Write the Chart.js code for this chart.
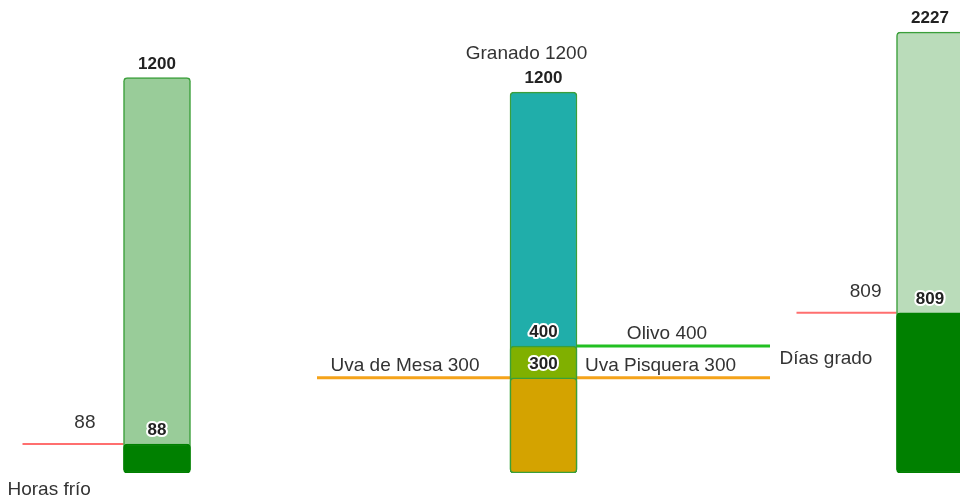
<!DOCTYPE html>
<html>
<head>
<meta charset="utf-8">
<script src="https://cdn.jsdelivr.net/npm/chart.js@4"></script>
<style>
  html, body { margin: 0; background: #fff; }
  canvas { display: block; }
</style>
</head>
<body>
<canvas id="chart" width="960" height="501"></canvas>
<script>
'use strict';

// horas frío: acumuladas / requeridas
const horasFrioLabel = 'Horas frío';
const horasFrio = [88, 1200];

// requerimiento de horas frío por cultivo
const cultivos = ['Granado', 'Olivo', 'Uva de Mesa', 'Uva Pisquera'];
const cultivoHoras = [1200, 400, 300, 300];

// días grado: acumulados / requeridos
const diasGradoLabel = 'Días grado';
const diasGrado = [809, 2227];

const FONT = "'Liberation Sans', Arial, sans-serif";
const BAR_W = 67;
const EDGE = '#3a9f3a';

let chart = null;

function bar(label, x, y, axis, color, border){
  return {
    label: label,
    data: [{x: x, y: y}],
    yAxisID: axis,
    backgroundColor: color,
    borderColor: border || EDGE,
    borderWidth: 1.5,
    borderRadius: 4,
    borderSkipped: false
  };
}

// value printed just over the top of every bar
const valueLabels = {
  id: 'valueLabels',
  afterDatasetsDraw(c){
    const ctx = c.ctx;
    ctx.save();
    ctx.font = 'bold 17px ' + FONT;
    ctx.textAlign = 'center';
    ctx.textBaseline = 'middle';
    ctx.lineJoin = 'round';
    c.data.datasets.forEach((ds, i) => {
      const el = c.getDatasetMeta(i).data[0];
      const txt = String(ds.data[0].y);
      ctx.lineWidth = 4;
      ctx.strokeStyle = '#fff';
      ctx.strokeText(txt, el.x, el.y - 13.5);
      ctx.fillStyle = '#222';
      ctx.fillText(txt, el.x, el.y - 13.5);
    });
    ctx.restore();
  }
};

// reference lines and captions
const notes = {
  id: 'notes',
  beforeDatasetsDraw(c){
    const ctx = c.ctx;
    const s = c.scales;
    const half = BAR_W / 2;
    const L = c.getDatasetMeta(0).data[0];
    const M = c.getDatasetMeta(4).data[0];
    const R = c.getDatasetMeta(5).data[0];
    const line = (x1, x2, y, color, w) => {
      ctx.beginPath();
      ctx.moveTo(x1, y);
      ctx.lineTo(x2, y);
      ctx.strokeStyle = color;
      ctx.lineWidth = w;
      ctx.stroke();
    };
    ctx.save();
    const yL = s.yL.getPixelForValue(horasFrio[0]);
    const yR = s.yR.getPixelForValue(diasGrado[0]);
    const y400 = s.yM.getPixelForValue(cultivoHoras[1]);
    const y300 = s.yM.getPixelForValue(cultivoHoras[2]);
    line(L.x - half - 101, L.x - half, yL, '#ff6f6f', 2);
    line(R.x - half - 100, R.x - half, yR, '#ff6f6f', 2);
    line(M.x + half, M.x + half + 193, y400, '#22c022', 3);
    line(M.x - half - 193, M.x - half, y300, '#f5a31a', 3);
    line(M.x + half, M.x + half + 193, y300, '#f5a31a', 3);
    ctx.restore();
  },
  afterDatasetsDraw(c){
    const ctx = c.ctx;
    const s = c.scales;
    const half = BAR_W / 2;
    const L = c.getDatasetMeta(0).data[0];
    const M = c.getDatasetMeta(4).data[0];
    const R = c.getDatasetMeta(5).data[0];
    const text = (t, x, y, align) => {
      ctx.textAlign = align;
      ctx.fillText(t, x, y);
    };
    ctx.save();
    ctx.font = '19px ' + FONT;
    ctx.fillStyle = '#333';
    ctx.textBaseline = 'middle';
    const yL = s.yL.getPixelForValue(horasFrio[0]);
    const yR = s.yR.getPixelForValue(diasGrado[0]);
    const y1200 = s.yM.getPixelForValue(cultivoHoras[0]);
    const y400 = s.yM.getPixelForValue(cultivoHoras[1]);
    const y300 = s.yM.getPixelForValue(cultivoHoras[2]);

    text(String(horasFrio[0]), L.x - half - 28, yL - 21, 'right');
    text(horasFrioLabel, L.x - half - 116, c.chartArea.bottom + 17, 'left');

    text(cultivos[0] + ' ' + cultivoHoras[0], M.x - 17, y1200 - 38, 'center');
    text(cultivos[1] + ' ' + cultivoHoras[1], M.x + half + 90, y400 - 12, 'center');
    text(cultivos[2] + ' ' + cultivoHoras[2], M.x - half - 105, y300 - 12, 'center');
    text(cultivos[3] + ' ' + cultivoHoras[3], M.x + half + 8, y300 - 12, 'left');

    text(String(diasGrado[0]), R.x - half - 15, yR - 21, 'right');
    text(diasGradoLabel, R.x - half - 117, yR + 46, 'left');
    ctx.restore();
  }
};

function makePlot(){
  chart = new Chart(document.querySelector('#chart'), {
    type: 'bar',
    data: {
      datasets: [
        bar(horasFrioLabel, 0, horasFrio[0], 'yL', '#008000', '#008000'),
        bar('Requerido', 0, horasFrio[1], 'yL', '#99cc99'),
        bar(cultivos[2], 1, cultivoHoras[2], 'yM', '#d4a300'),
        bar(cultivos[1], 1, cultivoHoras[1], 'yM', '#80b000'),
        bar(cultivos[0], 1, cultivoHoras[0], 'yM', '#20aeaa'),
        bar(diasGradoLabel, 2, diasGrado[0], 'yR', '#008000', '#008000'),
        bar('Requerido', 2, diasGrado[1], 'yR', '#badcba')
      ]
    },
    options: {
      responsive: false,
      animation: false,
      devicePixelRatio: 1,
      layout: {padding: {top: 0, right: 0, bottom: 28, left: 0}},
      plugins: {legend: {display: false}, tooltip: {enabled: false}},
      datasets: {bar: {grouped: false, barThickness: BAR_W}},
      scales: {
        x: {type: 'linear', display: false, offset: false, grid: {offset: false},
            min: -157 / 386.5, max: (960 - 157) / 386.5},
        yL: {type: 'linear', display: false, min: 0, max: 1435},
        yM: {type: 'linear', display: false, min: 0, max: 1490},
        yR: {type: 'linear', display: false, min: 0, max: 2389}
      }
    },
    plugins: [notes, valueLabels]
  });
}

makePlot();
</script>
</body>
</html>
